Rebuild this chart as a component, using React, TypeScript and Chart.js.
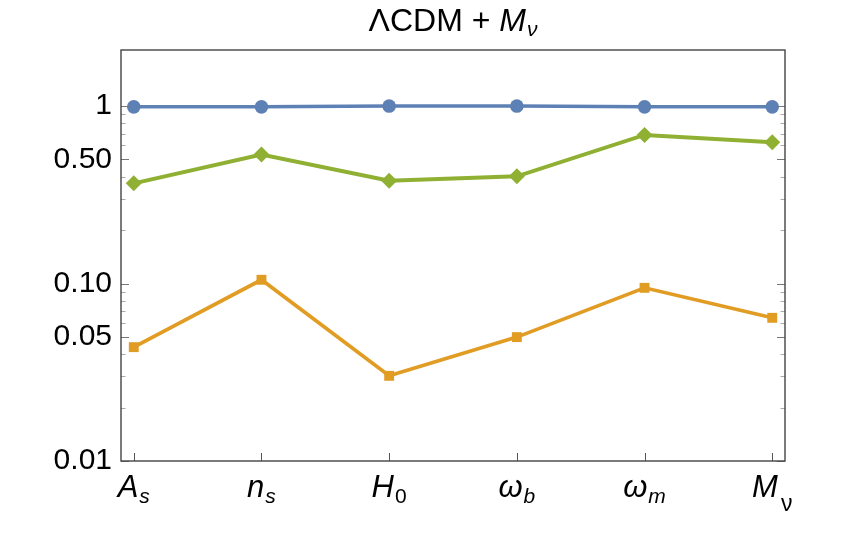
import React, { useEffect, useRef } from 'react';
import { Chart, registerables } from 'chart.js';

Chart.register(...registerables);

// ---- data ----
const categoryMain = ['A', 'n', 'H', 'ω', 'ω', 'M'];
const categorySub = ['s', 's', '0', 'b', 'm', 'ν'];
const uprightSubs = ['0', 'ν'];

const seriesBlue = [0.99, 0.99, 1.0, 1.0, 0.99, 0.99];
const seriesGreen = [0.367, 0.533, 0.38, 0.402, 0.688, 0.625];
const seriesOrange = [0.0438, 0.105, 0.0302, 0.0499, 0.0946, 0.0641];

const yMajorTicks = [0.01, 0.05, 0.1, 0.5, 1];
const yMajorLabels = ['0.01', '0.05', '0.10', '0.50', '1'];
const yMinorTicks = [0.02, 0.03, 0.04, 0.06, 0.07, 0.08, 0.09, 0.2, 0.3, 0.4, 0.6, 0.7, 0.8, 0.9];

const titleMain = 'ΛCDM + ';
const titleItalic = 'M';
const titleSub = 'ν';

const FONT = '"Liberation Sans", Arial, sans-serif';

const toPoints = (arr: number[]) => arr.map((v, i) => ({ x: i, y: v }));

const decorPlugin = {
  id: 'decor',
  afterDraw(chart: any) {
    const { ctx, chartArea: a, scales } = chart;
    const xs = scales.x;
    const ys = scales.y;
    ctx.save();

    // y ticks (left and right, inward)
    const all = [...yMajorTicks, ...yMinorTicks];
    all.forEach((v) => {
      const major = yMajorTicks.includes(v);
      const py = Math.round(ys.getPixelForValue(v)) + 0.5;
      const len = major ? 8 : 4.5;
      ctx.strokeStyle = major ? '#777' : '#aaa';
      ctx.lineWidth = 1;
      ctx.beginPath();
      ctx.moveTo(a.left, py);
      ctx.lineTo(a.left + len, py);
      ctx.moveTo(a.right, py);
      ctx.lineTo(a.right - len, py);
      ctx.stroke();
    });

    // x ticks (bottom, inward)
    ctx.strokeStyle = '#555';
    ctx.lineWidth = 1;
    categoryMain.forEach((_, i) => {
      const px = Math.round(xs.getPixelForValue(i)) + 0.5;
      ctx.beginPath();
      ctx.moveTo(px, a.bottom);
      ctx.lineTo(px, a.bottom - 8);
      ctx.stroke();
    });

    // frame
    ctx.strokeStyle = '#444';
    ctx.lineWidth = 1.4;
    ctx.strokeRect(a.left, a.top, a.right - a.left, a.bottom - a.top);

    // x labels
    ctx.fillStyle = '#000';
    ctx.textBaseline = 'alphabetic';
    ctx.textAlign = 'left';
    categoryMain.forEach((m, i) => {
      const s = categorySub[i];
      const px = xs.getPixelForValue(i);
      const upright = uprightSubs.includes(s);
      const isNu = s === 'ν';
      const mainFont = `italic 31px ${FONT}`;
      const subFont = `${upright ? '' : 'italic '}${isNu ? 23 : 21}px ${FONT}`;
      ctx.font = mainFont;
      const mw = ctx.measureText(m).width;
      ctx.font = subFont;
      const sw = ctx.measureText(s).width;
      const gap = isNu ? 3 : 1;
      const total = mw + gap + sw;
      const x0 = px - total / 2;
      ctx.font = mainFont;
      ctx.fillText(m, x0, 497);
      ctx.font = subFont;
      ctx.fillText(s, x0 + mw + gap, isNu ? 511 : 503);
    });

    // title
    const cx = (a.left + a.right) / 2;
    const f1 = `32px ${FONT}`;
    const f2 = `italic 32px ${FONT}`;
    const f3 = `italic 21px ${FONT}`;
    ctx.font = f1;
    const w1 = ctx.measureText(titleMain).width;
    ctx.font = f2;
    const w2 = ctx.measureText(titleItalic).width;
    ctx.font = f3;
    const w3 = ctx.measureText(titleSub).width;
    const tw = w1 + w2 + 1 + w3;
    let tx = cx - tw / 2;
    ctx.font = f1;
    ctx.fillText(titleMain, tx, 31);
    tx += w1;
    ctx.font = f2;
    ctx.fillText(titleItalic, tx, 31);
    tx += w2 + 1;
    ctx.font = f3;
    ctx.fillText(titleSub, tx, 36);

    ctx.restore();
  },
};

export default function App() {
  const canvasRef = useRef<HTMLCanvasElement | null>(null);

  useEffect(() => {
    document.body.style.margin = '0';
    const canvas = canvasRef.current;
    if (!canvas) return;
    const chart = new Chart(canvas, {
      type: 'line',
      data: {
        datasets: [
          {
            label: 'blue',
            data: toPoints(seriesBlue),
            borderColor: '#5E81B5',
            backgroundColor: '#5E81B5',
            borderWidth: 3.5,
            pointStyle: 'circle',
            pointRadius: 6.8,
            pointBorderWidth: 0,
            pointBackgroundColor: '#5E81B5',
          },
          {
            label: 'green',
            data: toPoints(seriesGreen),
            borderColor: '#8FB032',
            backgroundColor: '#8FB032',
            borderWidth: 4,
            pointStyle: 'rectRot',
            pointRadius: 8,
            pointBorderWidth: 0,
            pointBackgroundColor: '#8FB032',
          },
          {
            label: 'orange',
            data: toPoints(seriesOrange),
            borderColor: '#E19C24',
            backgroundColor: '#E19C24',
            borderWidth: 3.7,
            pointStyle: 'rect',
            pointRadius: 7,
            pointBorderWidth: 0,
            pointBackgroundColor: '#E19C24',
          },
        ],
      },
      options: {
        animation: false,
        responsive: false,
        maintainAspectRatio: false,
        layout: { padding: { top: 50, right: 58, left: 0, bottom: 0 } },
        plugins: {
          legend: { display: false },
          title: { display: false },
          tooltip: { enabled: false },
        },
        elements: { line: { tension: 0 } },
        scales: {
          x: {
            type: 'linear',
            min: -0.1,
            max: 5.1,
            grid: { display: false },
            border: { display: false },
            ticks: { display: false },
            afterFit: (s: any) => {
              s.height = 99;
            },
          },
          y: {
            type: 'logarithmic',
            min: 0.01,
            max: 2.07,
            grid: { display: false, drawTicks: false },
            border: { display: false },
            afterBuildTicks: (s: any) => {
              s.ticks = yMajorTicks.map((v) => ({ value: v, major: true }));
            },
            ticks: {
              autoSkip: false,
              padding: 9,
              color: '#000',
              font: { family: '"Liberation Sans", Arial, sans-serif', size: 30 },
              callback: (value: any) => {
                const idx = yMajorTicks.indexOf(Number(value));
                return idx >= 0 ? yMajorLabels[idx] : '';
              },
            },
            afterFit: (s: any) => {
              s.width = 121;
            },
          },
        },
      },
      plugins: [decorPlugin],
    });
    return () => chart.destroy();
  }, []);

  return (
    <div style={{ width: 843, height: 560 }}>
      <canvas ref={canvasRef} width={843} height={560} style={{ display: 'block' }} />
    </div>
  );
}
